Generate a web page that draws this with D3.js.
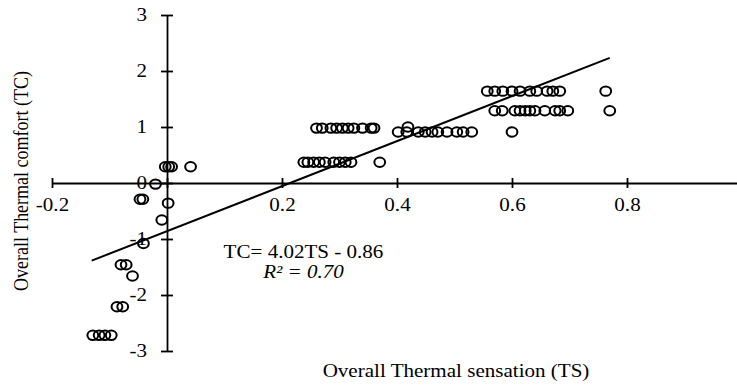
<!DOCTYPE html>
<html>
<head>
<meta charset="utf-8">
<script src="https://cdn.jsdelivr.net/npm/d3@7"></script>
<style>
	body { margin: 0; background: #fff; }
	svg text { font-family: "Liberation Serif", "Times New Roman", serif; fill: #000; }
</style>
</head>
<body>
<svg id="chart" width="737" height="385"></svg>
<script>
// overall thermal sensation (TS) and comfort (TC) vote pairs
const TS = [
	-0.129, -0.118, -0.108, -0.097,
	-0.087, -0.077,
	-0.080, -0.071, -0.060,
	-0.041, -0.009, 0.002,
	-0.047, -0.042, -0.020,
	-0.003, 0.003, 0.008, 0.041,
	0.238, 0.245, 0.255, 0.265, 0.275, 0.290, 0.300, 0.310, 0.320, 0.370,
	0.260, 0.270, 0.285, 0.295, 0.305, 0.315, 0.325, 0.340, 0.355, 0.360,
	0.402, 0.417, 0.437, 0.449, 0.461, 0.471, 0.487, 0.504, 0.515, 0.530, 0.419, 0.600,
	0.570, 0.583, 0.605, 0.614, 0.623, 0.631, 0.640, 0.657, 0.675, 0.683, 0.697, 0.770,
	0.557, 0.570, 0.584, 0.600, 0.614, 0.631, 0.643, 0.661, 0.671, 0.683, 0.763
];
const TC = [
	-2.72, -2.72, -2.72, -2.72,
	-2.21, -2.21,
	-1.46, -1.46, -1.66,
	-1.08, -0.66, -0.36,
	-0.29, -0.29, -0.02,
	0.29, 0.29, 0.29, 0.29,
	0.37, 0.37, 0.37, 0.37, 0.37, 0.37, 0.37, 0.37, 0.37, 0.37,
	0.98, 0.98, 0.98, 0.98, 0.98, 0.98, 0.98, 0.98, 0.98, 0.98,
	0.91, 0.91, 0.91, 0.91, 0.91, 0.91, 0.91, 0.91, 0.91, 0.91, 1.00, 0.91,
	1.29, 1.29, 1.29, 1.29, 1.29, 1.29, 1.29, 1.29, 1.29, 1.29, 1.29, 1.29,
	1.64, 1.64, 1.64, 1.64, 1.64, 1.64, 1.64, 1.64, 1.64, 1.64, 1.64
];

const X_TICKS = [-0.2, 0, 0.2, 0.4, 0.6, 0.8, 1.0];
const X_LABELS = ["-0.2", "", "0.2", "0.4", "0.6", "0.8", ""];
const Y_TICKS = [-3, -2, -1, 0, 1, 2, 3];

// linear fit shown on the chart
const FIT_SLOPE = 4.02;
const FIT_INTERCEPT = -0.86;
const FIT_RANGE = [-0.131, 0.770];

const SX = 1.17; // the figure is stretched sideways a little

const svg = d3.select("#chart");

const x = d3.scaleLinear().domain([-0.2, 1.0]).range([52, 742]);
const y = d3.scaleLinear().domain([-3, 3]).range([351, 15]);

// x axis through TC = 0, ticks cross the line
const xAxis = svg.append("g")
	.attr("transform", `translate(0,${y(0)})`)
	.call(d3.axisBottom(x).tickValues(X_TICKS).tickSizeInner(5).tickSizeOuter(0).tickPadding(10)
		.tickFormat((d, i) => X_LABELS[i]));
xAxis.selectAll(".tick line").attr("y1", -5).attr("stroke-width", 1.8);
xAxis.select(".domain").attr("stroke-width", 1.8);
xAxis.selectAll("text").style("font-size", "18px")
	.attr("transform", `scale(${SX},1)`);

// y axis through TS = 0
const yAxis = svg.append("g")
	.attr("transform", `translate(${x(0)},0)`)
	.call(d3.axisLeft(y).tickValues(Y_TICKS).tickSizeInner(6).tickSizeOuter(0).tickPadding(11)
		.tickFormat(d => `${d}`));
yAxis.selectAll(".tick line").attr("x1", 6).attr("stroke-width", 1.8);
yAxis.select(".domain").attr("stroke-width", 1.8);
yAxis.selectAll("text").style("font-size", "18px")
	.attr("x", 0)
	.attr("transform", `translate(-20,0) scale(${SX},1)`);

// fitted line
svg.append("line")
	.attr("x1", x(FIT_RANGE[0])).attr("y1", y(FIT_SLOPE * FIT_RANGE[0] + FIT_INTERCEPT))
	.attr("x2", x(FIT_RANGE[1])).attr("y2", y(FIT_SLOPE * FIT_RANGE[1] + FIT_INTERCEPT))
	.attr("stroke", "#000")
	.attr("stroke-width", 2);

// points
svg.append("g")
	.selectAll("ellipse")
	.data(TS.map((t, i) => ({ ts: t, tc: TC[i] })))
	.enter()
	.append("ellipse")
	.attr("cx", d => x(d.ts))
	.attr("cy", d => y(d.tc))
	.attr("rx", 5.4)
	.attr("ry", 4.7)
	.attr("fill", "none")
	.attr("stroke", "#000")
	.attr("stroke-width", 2);

// equation
svg.append("text")
	.attr("transform", `translate(303.5,258) scale(${SX},1)`)
	.attr("text-anchor", "middle")
	.style("font-size", "18px")
	.text("TC= 4.02TS - 0.86");
svg.append("text")
	.attr("transform", `translate(303.5,278) scale(${SX},1)`)
	.attr("text-anchor", "middle")
	.style("font-size", "18px")
	.style("font-style", "italic")
	.text("R² = 0.70");

// axis titles
svg.append("text")
	.attr("transform", `translate(456,377) scale(${SX},1)`)
	.attr("text-anchor", "middle")
	.style("font-size", "18px")
	.text("Overall Thermal sensation (TS)");
svg.append("text")
	.attr("transform", `translate(28,181) scale(${SX},1) rotate(-90)`)
	.attr("text-anchor", "middle")
	.style("font-size", "18px")
	.text("Overall Thermal comfort (TC)");
</script>
</body>
</html>
